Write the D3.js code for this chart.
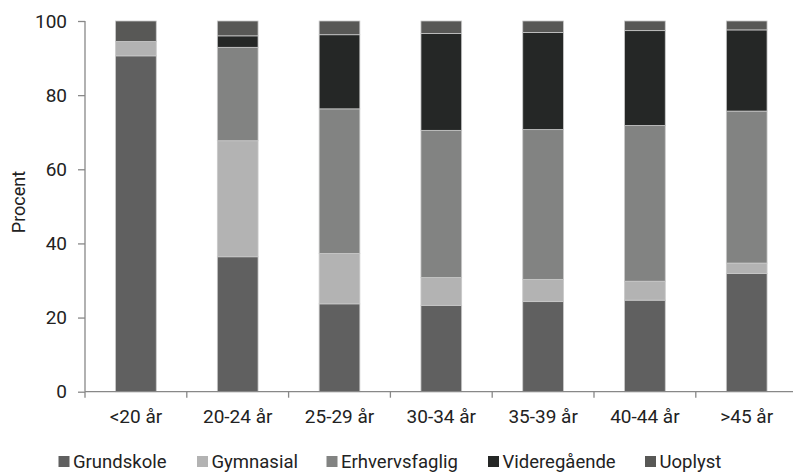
<!DOCTYPE html>
<html>
<head>
<meta charset="utf-8">
<script src="https://cdn.jsdelivr.net/npm/d3@7"></script>
<style>
  html, body { margin: 0; padding: 0; background: #fff; }
  svg { display: block; font-family: Roboto, "Liberation Sans", sans-serif; }
</style>
</head>
<body>
<svg id="chart" width="793" height="472"></svg>
<script>
const categories = ["<20 år", "20-24 år", "25-29 år", "30-34 år", "35-39 år", "40-44 år", ">45 år"];
const seriesNames = ["Grundskole", "Gymnasial", "Erhvervsfaglig", "Videregående", "Uoplyst"];
const grundskole     = [90.6, 36.4, 23.7, 23.3, 24.3, 24.7, 31.9];
const gymnasial      = [3.9, 31.3, 13.6, 7.5, 6.0, 5.1, 2.8];
const erhvervsfaglig = [0.0, 25.2, 39.0, 39.7, 40.4, 42.0, 41.0];
const videregaaende  = [0.0, 3.1, 20.0, 26.1, 26.2, 25.6, 21.9];
const uoplyst        = [5.5, 4.0, 3.7, 3.4, 3.1, 2.6, 2.4];
const yTicks = [0, 20, 40, 60, 80, 100];
const colors = ["#606060", "#b3b3b3", "#828382", "#252726", "#585856"];

const seriesValues = [grundskole, gymnasial, erhvervsfaglig, videregaaende, uoplyst];
const rows = categories.map((c, i) => {
  const r = { cat: c };
  seriesNames.forEach((s, j) => r[s] = seriesValues[j][i]);
  return r;
});

const svg = d3.select("#chart");
const mLeft = 85, mRight = 797.6, mTop = 21, mBottom = 391.7;

const x = d3.scaleBand().domain(categories).range([mLeft, mRight]).paddingInner(0.6).paddingOuter(0.3);
const xAxisScale = d3.scaleBand().domain(categories).range([mLeft, mRight]);
const y = d3.scaleLinear().domain([0, 100]).range([mBottom, mTop]);

const stacked = d3.stack().keys(seriesNames)(rows);

const g = svg.append("g");
stacked.forEach((layer, j) => {
  g.selectAll(null).data(layer).enter().append("rect")
    .attr("x", d => x(d.data.cat))
    .attr("width", x.bandwidth())
    .attr("y", d => y(d[1]))
    .attr("height", d => Math.max(0, y(d[0]) - y(d[1])))
    .attr("fill", colors[j])
    .attr("stroke", d => (d[1] - d[0]) > 0 ? "#c9c9c9" : "none")
    .attr("stroke-width", 0.8);
});

// Y axis
const yAxis = svg.append("g")
  .attr("transform", `translate(${mLeft},0)`)
  .call(d3.axisLeft(y).tickValues(yTicks).tickSize(7).tickPadding(11));
// X axis
const xAxis = svg.append("g")
  .attr("transform", `translate(0,${mBottom})`)
  .call(d3.axisBottom(xAxisScale).tickSize(0).tickPadding(24));

// x ticks at band boundaries
const boundaries = categories.map(c => xAxisScale(c));
svg.append("g").selectAll(null).data(boundaries).enter().append("line")
  .attr("x1", d => d).attr("x2", d => d)
  .attr("y1", mBottom).attr("y2", mBottom + 6)
  .attr("stroke", "#888").attr("stroke-width", 1.3);

[yAxis, xAxis].forEach(a => {
  a.select(".domain").attr("stroke", "#888").attr("stroke-width", 1.3);
  a.selectAll(".tick line").attr("stroke", "#888").attr("stroke-width", 1.3);
  a.selectAll("text").attr("fill", "#222").style("font-size", "19px").attr("font-family", "Roboto, sans-serif");
});
yAxis.select(".domain").attr("d", `M0,${mTop}V${mBottom}`);
xAxis.select(".domain").attr("d", `M${mLeft},0H${mRight}`);
xAxis.selectAll(".tick text").attr("dy", "0").attr("y", 31.5);

// Y title
svg.append("text")
  .attr("transform", `translate(25,202) rotate(-90)`)
  .attr("text-anchor", "middle")
  .attr("fill", "#222")
  .style("font-size", "18px")
  .text("Procent");

// Legend
const legendX = [58.5, 197, 326.5, 488, 645];
const legend = svg.append("g");
seriesNames.forEach((s, j) => {
  const lg = legend.append("g").attr("transform", `translate(${legendX[j]},0)`);
  lg.append("rect").attr("x", 0).attr("y", 456).attr("width", 11).attr("height", 11).attr("fill", colors[j]);
  lg.append("text").attr("x", 14.5).attr("y", 467.5).attr("fill", "#222").style("font-size", "18.5px").text(s);
});
</script>
</body>
</html>
